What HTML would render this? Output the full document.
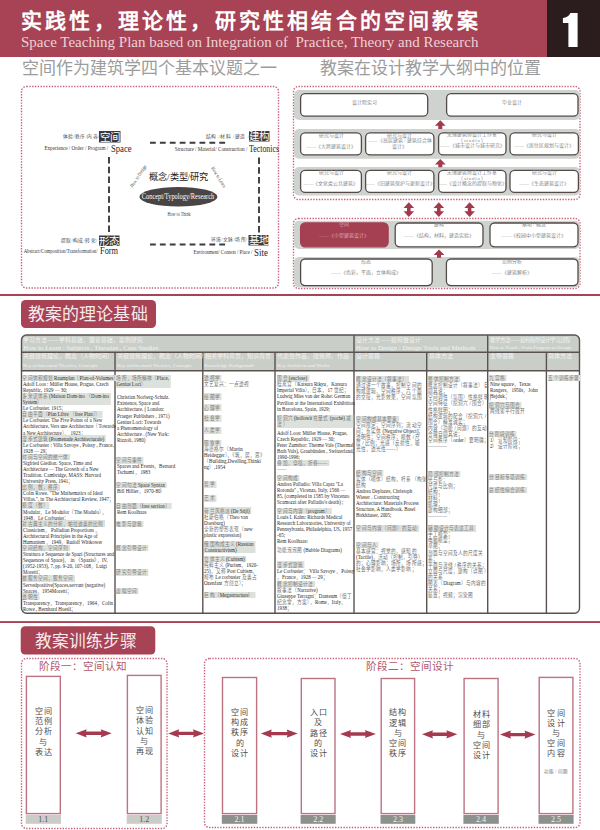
<!DOCTYPE html>
<html lang="zh-CN"><head><meta charset="utf-8">
<style>
*{margin:0;padding:0;box-sizing:border-box}
html,body{width:600px;height:830px;overflow:hidden;background:#fff}
body{position:relative;font-family:"Liberation Serif",serif;color:#333}
.a{position:absolute;white-space:nowrap}
.sans{font-family:"Liberation Sans",sans-serif}
svg{position:absolute;left:0;top:0}
</style></head><body>
<!-- HEADER -->
<div class="a" style="left:0;top:0;width:547px;height:57px;background:#a84355"></div>
<div class="a" style="left:547px;top:0;width:53px;height:57px;background:#2b1c1e"></div>
<svg width="600" height="60" viewBox="0 0 600 60"><path d="M577.6 12.9V47.1H568.4V22.9H562.9V18.1C566.2 17.6 569.2 15.6 570.4 12.9Z" fill="#fff"/></svg>
<div class="a sans" style="left:21px;top:7.5px;font-size:21px;font-weight:bold;color:#fff;letter-spacing:3.2px;line-height:26px">实践性，理论性，研究性相结合的空间教案</div>
<div class="a" style="left:21px;top:33px;font-size:15px;color:#ecd2d7;line-height:18px">Space Teaching Plan based on Integration of &nbsp;Practice, Theory and Research</div>

<div class="a" style="left:22px;top:58px;font-size:17px;color:#9c9c9c;line-height:22px;font-weight:200">空间作为建筑学四个基本议题之一</div>
<div class="a" style="left:320px;top:58px;font-size:17px;color:#9c9c9c;line-height:22px;font-weight:200">教案在设计教学大纲中的位置</div>

<svg width="600" height="830" viewBox="0 0 600 830">
 <g fill="none" stroke="#c9627b" stroke-width="1.4" stroke-dasharray="1.4 1.4">
  <rect x="21.5" y="86.5" width="257" height="201.5" rx="5"/>
  <rect x="293.5" y="86.5" width="286.5" height="113" rx="5"/>
  <rect x="293.5" y="218.5" width="286.5" height="70" rx="5"/>
 </g>
 <rect x="0" y="294" width="600" height="2" fill="#a84355"/>
</svg>
<!-- LEFT DIAGRAM -->
<svg width="600" height="830" viewBox="0 0 600 830">
 <g stroke="#3c3a3a" stroke-width="1.9" fill="none">
  <path d="M150 142.7H226" stroke-dasharray="5.8 4.1"/>
  <path d="M150 244.5H226" stroke-dasharray="5.8 4.1"/>
  <path d="M109 157V233.5" stroke-dasharray="6.5 3.3"/>
  <path d="M259 157.5V234" stroke-dasharray="6.5 3.3"/>
 </g>
 <ellipse cx="178.4" cy="196.7" rx="39" ry="9.8" fill="#4a4545"/>
 <rect x="99" y="131" width="21.5" height="11.5" fill="#3a3a3a"/>
 <rect x="249" y="131" width="20.5" height="10.5" fill="#3a3a3a"/>
 <rect x="99" y="235.5" width="20.5" height="10.5" fill="#3a3a3a"/>
 <rect x="248.5" y="235" width="20" height="10.5" fill="#3a3a3a"/>
</svg>
<div class="a sans" style="left:99px;top:130.5px;width:21.5px;text-align:center;font-size:10.5px;line-height:12px;color:#fff">空间</div>
<div class="a sans" style="left:249px;top:130px;width:20.5px;text-align:center;font-size:10.5px;line-height:12px;color:#fff">建构</div>
<div class="a sans" style="left:99px;top:234.5px;width:20.5px;text-align:center;font-size:10.5px;line-height:12px;color:#fff">形态</div>
<div class="a sans" style="left:248.5px;top:234px;width:20px;text-align:center;font-size:10.5px;line-height:12px;color:#fff">基地</div>
<div class="a" style="right:500.5px;top:133.5px;font-size:4.8px;line-height:6px;color:#4a4a4a;letter-spacing:0.3px">体验/秩序/内容/</div>
<div class="a" style="right:491.5px;top:144.6px;font-size:6px;line-height:7.199999999999999px;color:#333;letter-spacing:0px;word-spacing:0px;transform:scaleX(0.86);transform-origin:100% 0">Experience /  Order /  Program /</div>
<div class="a" style="left:110.5px;top:142.54000000000002px;font-size:9.6px;line-height:11.52px;color:#1e1e1e;letter-spacing:0px;word-spacing:0px;transform:scaleX(0.9);transform-origin:0 0">Space</div>
<div class="a" style="right:350.5px;top:134px;font-size:4.8px;line-height:6px;color:#4a4a4a;letter-spacing:0.5px">结构 /材料 /建造 /</div>
<div class="a" style="right:352.5px;top:146.4px;font-size:6px;line-height:7.199999999999999px;color:#333;letter-spacing:0px;word-spacing:0px;transform:scaleX(0.86);transform-origin:100% 0">Structure / Material/ Construction /</div>
<div class="a" style="left:248.5px;top:142.84px;font-size:9.6px;line-height:11.52px;color:#1e1e1e;letter-spacing:0px;word-spacing:0px;transform:scaleX(0.82);transform-origin:0 0">Tectonics</div>
<div class="a" style="right:502.5px;top:238.3px;font-size:4.8px;line-height:6px;color:#4a4a4a;letter-spacing:0.3px">提取/构成/转化/</div>
<div class="a" style="right:502.5px;top:247.70000000000002px;font-size:6px;line-height:7.199999999999999px;color:#333;letter-spacing:0px;word-spacing:0px;transform:scaleX(0.79);transform-origin:100% 0">Abstract/Composition/Transformation/</div>
<div class="a" style="left:100px;top:245.24px;font-size:9.6px;line-height:11.52px;color:#1e1e1e;letter-spacing:0px;word-spacing:0px;transform:scaleX(0.87);transform-origin:0 0">Form</div>
<div class="a" style="right:352.5px;top:237.3px;font-size:4.8px;line-height:6px;color:#4a4a4a;letter-spacing:0.3px">环境/文脉/场所/</div>
<div class="a" style="right:348px;top:248.6px;font-size:6px;line-height:7.199999999999999px;color:#333;letter-spacing:0px;word-spacing:0px;transform:scaleX(0.79);transform-origin:100% 0">Environment/ Context / Place /</div>
<div class="a" style="left:253.5px;top:246.74px;font-size:9.6px;line-height:11.52px;color:#1e1e1e;letter-spacing:0px;word-spacing:0px;transform:scaleX(0.93);transform-origin:0 0">Site</div>
<div class="a" style="left:149px;top:170.5px;font-size:9.2px;line-height:12px;color:#1a1a1a;font-weight:500">概念/类型/研究</div>
<div class="a" style="left:178.4px;top:192.2px;width:0;font-size:7.4px;line-height:9px;color:#fff"><span style="display:inline-block;transform:translateX(-50%) scaleX(0.86)">Concept/Typology/Research</span></div>
<div class="a" style="left:178.5px;top:211px;width:0;font-size:5.2px;line-height:6px;color:#444"><span style="display:inline-block;transform:translateX(-50%) scaleX(0.8)">How to Think</span></div>
<div class="a" style="left:138.2px;top:172.5px;width:0;font-size:5.2px;line-height:6px;color:#444"><span style="display:inline-block;transform:translateX(-50%) rotate(-56.5deg) scaleX(0.82)">How to Design</span></div>
<div class="a" style="left:218.6px;top:173.9px;width:0;font-size:5.2px;line-height:6px;color:#444"><span style="display:inline-block;transform:translateX(-50%) rotate(58.5deg) scaleX(0.82)">How to Learn</span></div>
<!-- RIGHT SECTION 1 -->
<svg width="600" height="830" viewBox="0 0 600 830">
<rect x="294" y="90" width="286" height="30" rx="5" fill="#cfd3cf"/>
<rect x="294" y="129" width="286" height="29.69999999999999" rx="5" fill="#cfd3cf"/>
<rect x="294" y="167" width="286" height="28.5" rx="5" fill="#cfd3cf"/>
<rect x="294" y="220.8" width="286" height="28.19999999999999" rx="5" fill="#cfd3cf"/>
<rect x="294" y="257" width="286" height="30.5" rx="5" fill="#cfd3cf"/>
<rect x="300.6" y="93.6" width="127.10000000000001" height="22.599999999999998" rx="4.5" fill="#fff" stroke="#534a48" stroke-width="1.3"/>
<rect x="446.6" y="93.6" width="131.40000000000003" height="22.599999999999998" rx="4.5" fill="#fff" stroke="#534a48" stroke-width="1.3"/>
<rect x="300.6" y="132.9" width="60.8" height="21.99999999999999" rx="4.5" fill="#fff" stroke="#534a48" stroke-width="1.3"/>
<rect x="365.6" y="132.9" width="68.3" height="21.99999999999999" rx="4.5" fill="#fff" stroke="#534a48" stroke-width="1.3"/>
<rect x="438.6" y="132.9" width="67.40000000000002" height="21.99999999999999" rx="4.5" fill="#fff" stroke="#534a48" stroke-width="1.3"/>
<rect x="510.0" y="132.9" width="68.40000000000002" height="21.99999999999999" rx="4.5" fill="#fff" stroke="#534a48" stroke-width="1.3"/>
<rect x="300.6" y="170.4" width="60.8" height="21.99999999999999" rx="4.5" fill="#fff" stroke="#534a48" stroke-width="1.3"/>
<rect x="365.6" y="170.4" width="68.3" height="21.99999999999999" rx="4.5" fill="#fff" stroke="#534a48" stroke-width="1.3"/>
<rect x="438.6" y="170.4" width="67.40000000000002" height="21.99999999999999" rx="4.5" fill="#fff" stroke="#534a48" stroke-width="1.3"/>
<rect x="510.0" y="170.4" width="68.40000000000002" height="21.99999999999999" rx="4.5" fill="#fff" stroke="#534a48" stroke-width="1.3"/>
<rect x="300.6" y="223.0" width="87.49999999999999" height="23.8" rx="4.5" fill="#a53f52" stroke="#a53f52" stroke-width="1.3"/>
<rect x="395.20000000000005" y="223.0" width="87.8" height="23.8" rx="4.5" fill="#fff" stroke="#534a48" stroke-width="1.3"/>
<rect x="490.0" y="223.0" width="88.00000000000004" height="23.8" rx="4.5" fill="#fff" stroke="#534a48" stroke-width="1.3"/>
<rect x="300.6" y="259.0" width="131.60000000000002" height="26.600000000000012" rx="4.5" fill="#fff" stroke="#534a48" stroke-width="1.3"/>
<rect x="446.40000000000003" y="259.0" width="131.60000000000002" height="26.600000000000012" rx="4.5" fill="#fff" stroke="#534a48" stroke-width="1.3"/>
<path d="M440.3 120.3L445.7 125.8H442.3V129H438.3V125.8H434.90000000000003Z" fill="#a23a4e"/>
<path d="M440.3 159L445.7 164.5H442.3V167.2H438.3V164.5H434.90000000000003Z" fill="#a23a4e"/>
<path d="M439 249.5L444.4 255.0H441V257.8H437V255.0H433.6Z" fill="#a23a4e"/>
<path d="M408.8 202.3L414.1 208.10000000000002H410.6V211.2H414.1L408.8 217L403.5 211.2H407.0V208.10000000000002H403.5Z" fill="#a23a4e"/>
<path d="M438.8 202.3L444.1 208.10000000000002H440.6V211.2H444.1L438.8 217L433.5 211.2H437.0V208.10000000000002H433.5Z" fill="#a23a4e"/>
<path d="M469.6 202.3L474.90000000000003 208.10000000000002H471.40000000000003V211.2H474.90000000000003L469.6 217L464.3 211.2H467.8V208.10000000000002H464.3Z" fill="#a23a4e"/>
</svg>
<div class="a" style="left:364px;top:99.7px;width:0;font-size:4.9px;line-height:6px;color:#858585;font-weight:300;letter-spacing:0px"><span style="display:inline-block;transform:translateX(-50%)">设计院实习</span></div>
<div class="a" style="left:512px;top:99.7px;width:0;font-size:4.9px;line-height:6px;color:#858585;font-weight:300;letter-spacing:0px"><span style="display:inline-block;transform:translateX(-50%)">毕业设计</span></div>
<div class="a" style="left:331.0px;top:132.5px;width:0;font-size:4.9px;line-height:6px;color:#858585;font-weight:300;letter-spacing:0px"><span style="display:inline-block;transform:translateX(-50%)">研究与设计</span></div>
<div class="a" style="left:331.0px;top:143.5px;width:0;font-size:4.9px;line-height:6px;color:#858585;font-weight:300;letter-spacing:0px"><span style="display:inline-block;transform:translateX(-50%)">——《大跨建筑设计》</span></div>
<div class="a" style="left:399.75px;top:132.5px;width:0;font-size:4.9px;line-height:6px;color:#858585;font-weight:300;letter-spacing:0px"><span style="display:inline-block;transform:translateX(-50%)">研究与设计</span></div>
<div class="a" style="left:399.75px;top:138px;width:0;font-size:4.9px;line-height:6px;color:#858585;font-weight:300;letter-spacing:0px"><span style="display:inline-block;transform:translateX(-50%)">——《高层建筑 / 建筑综合体</span></div>
<div class="a" style="left:399.75px;top:143.7px;width:0;font-size:4.9px;line-height:6px;color:#858585;font-weight:300;letter-spacing:0px"><span style="display:inline-block;transform:translateX(-50%)">设计》</span></div>
<div class="a" style="left:472.3px;top:132.2px;width:0;font-size:4.9px;line-height:6px;color:#858585;font-weight:300;letter-spacing:0px"><span style="display:inline-block;transform:translateX(-50%)">无锡建筑师设计工作室</span></div>
<div class="a" style="left:472.3px;top:138px;width:0;font-size:4.9px;line-height:6px;color:#858585;font-weight:300;letter-spacing:0.8px"><span style="display:inline-block;transform:translateX(-50%)">（studio）</span></div>
<div class="a" style="left:472.3px;top:143.4px;width:0;font-size:4.9px;line-height:6px;color:#858585;font-weight:300;letter-spacing:0px"><span style="display:inline-block;transform:translateX(-50%)">——《城市设计与城市研究》</span></div>
<div class="a" style="left:544.2px;top:132.2px;width:0;font-size:4.9px;line-height:6px;color:#858585;font-weight:300;letter-spacing:0px"><span style="display:inline-block;transform:translateX(-50%)">研究与设计</span></div>
<div class="a" style="left:544.2px;top:143.4px;width:0;font-size:4.9px;line-height:6px;color:#858585;font-weight:300;letter-spacing:0px"><span style="display:inline-block;transform:translateX(-50%)">——《居住区规划与设计》</span></div>
<div class="a" style="left:331.0px;top:170px;width:0;font-size:4.9px;line-height:6px;color:#858585;font-weight:300;letter-spacing:0px"><span style="display:inline-block;transform:translateX(-50%)">研究与设计</span></div>
<div class="a" style="left:331.0px;top:181.2px;width:0;font-size:4.9px;line-height:6px;color:#858585;font-weight:300;letter-spacing:0px"><span style="display:inline-block;transform:translateX(-50%)">——《文化类公共建筑》</span></div>
<div class="a" style="left:399.75px;top:170px;width:0;font-size:4.9px;line-height:6px;color:#858585;font-weight:300;letter-spacing:0px"><span style="display:inline-block;transform:translateX(-50%)">研究与设计</span></div>
<div class="a" style="left:399.75px;top:181.2px;width:0;font-size:4.9px;line-height:6px;color:#858585;font-weight:300;letter-spacing:0px"><span style="display:inline-block;transform:translateX(-50%)">——《旧建筑保护与更新设计》</span></div>
<div class="a" style="left:472.3px;top:170px;width:0;font-size:4.9px;line-height:6px;color:#858585;font-weight:300;letter-spacing:0px"><span style="display:inline-block;transform:translateX(-50%)">无锡建筑师设计工作室</span></div>
<div class="a" style="left:472.3px;top:176.1px;width:0;font-size:4.9px;line-height:6px;color:#858585;font-weight:300;letter-spacing:0.8px"><span style="display:inline-block;transform:translateX(-50%)">（studio）</span></div>
<div class="a" style="left:472.3px;top:181.2px;width:0;font-size:4.9px;line-height:6px;color:#858585;font-weight:300;letter-spacing:0px"><span style="display:inline-block;transform:translateX(-50%)">——《设计概念的提取与物化》</span></div>
<div class="a" style="left:544.2px;top:170px;width:0;font-size:4.9px;line-height:6px;color:#858585;font-weight:300;letter-spacing:0px"><span style="display:inline-block;transform:translateX(-50%)">研究与设计</span></div>
<div class="a" style="left:544.2px;top:181.2px;width:0;font-size:4.9px;line-height:6px;color:#858585;font-weight:300;letter-spacing:0px"><span style="display:inline-block;transform:translateX(-50%)">——《生态建筑设计》</span></div>
<div class="a" style="left:344px;top:221.7px;width:0;font-size:4.9px;line-height:6px;color:#dcaab4;font-weight:300;letter-spacing:0px"><span style="display:inline-block;transform:translateX(-50%)">空间</span></div>
<div class="a" style="left:344px;top:233px;width:0;font-size:4.9px;line-height:6px;color:#dcaab4;font-weight:300;letter-spacing:0px"><span style="display:inline-block;transform:translateX(-50%)">——《小型建筑设计》</span></div>
<div class="a" style="left:439px;top:221.7px;width:0;font-size:4.9px;line-height:6px;color:#858585;font-weight:300;letter-spacing:0px"><span style="display:inline-block;transform:translateX(-50%)">建构</span></div>
<div class="a" style="left:439px;top:233px;width:0;font-size:4.9px;line-height:6px;color:#858585;font-weight:300;letter-spacing:0px"><span style="display:inline-block;transform:translateX(-50%)">——《结构，材料，建造实验》</span></div>
<div class="a" style="left:534px;top:221.7px;width:0;font-size:4.9px;line-height:6px;color:#858585;font-weight:300;letter-spacing:0px"><span style="display:inline-block;transform:translateX(-50%)">基地 / 概念</span></div>
<div class="a" style="left:534px;top:233px;width:0;font-size:4.9px;line-height:6px;color:#858585;font-weight:300;letter-spacing:0px"><span style="display:inline-block;transform:translateX(-50%)">——《校园中小型建筑设计》</span></div>
<div class="a" style="left:366px;top:259px;width:0;font-size:4.9px;line-height:6px;color:#858585;font-weight:300;letter-spacing:0px"><span style="display:inline-block;transform:translateX(-50%)">形态</span></div>
<div class="a" style="left:366px;top:270.2px;width:0;font-size:4.9px;line-height:6px;color:#858585;font-weight:300;letter-spacing:0px"><span style="display:inline-block;transform:translateX(-50%)">——《色彩，平面，立体构成》</span></div>
<div class="a" style="left:512px;top:259px;width:0;font-size:4.9px;line-height:6px;color:#858585;font-weight:300;letter-spacing:0px"><span style="display:inline-block;transform:translateX(-50%)">范例分析</span></div>
<div class="a" style="left:512px;top:270.2px;width:0;font-size:4.9px;line-height:6px;color:#858585;font-weight:300;letter-spacing:0px"><span style="display:inline-block;transform:translateX(-50%)">——《建筑解析》</span></div>
<!-- SECTION 2 -->
<div class="a" style="left:21px;top:300.3px;width:134.5px;height:28px;background:#a84355;border-radius:4.5px"></div>
<div class="a" style="left:28px;top:301.5px;font-size:17px;line-height:26px;color:#f7eaec;letter-spacing:0.1px;font-weight:200">教案的理论基础</div>
<svg width="600" height="830" viewBox="0 0 600 830">
<path d="M21.5 370.7V340a5 5 0 0 1 5-5H574.5a5 5 0 0 1 5 5V370.7Z" fill="#c9cec9"/>
<path d="M21.5 370.7V340a5 5 0 0 1 5-5H574.5a5 5 0 0 1 5 5V608.2a5 5 0 0 1-5 5H26.5a5 5 0 0 1-5-5V370.7" fill="none" stroke="#5a5250" stroke-width="1.4"/>
<path d="M21.5 352.2H579.5M21.5 370.7H579.5" stroke="#5a5250" stroke-width="1.4"/>
<path d="M354 335V613.2" stroke="#5a5250" stroke-width="1.4"/>
<path d="M487.7 335V613.2" stroke="#5a5250" stroke-width="1.4"/>
<path d="M115 352.2V613.2" stroke="#5a5250" stroke-width="1.4"/>
<path d="M202.8 352.2V613.2" stroke="#5a5250" stroke-width="1.4"/>
<path d="M275 352.2V613.2" stroke="#5a5250" stroke-width="1.4"/>
<path d="M426.7 352.2V613.2" stroke="#5a5250" stroke-width="1.4"/>
<path d="M546.4 352.2V613.2" stroke="#5a5250" stroke-width="1.4"/>
</svg>
<div class="a" style="left:23.3px;top:336.7px;font-size:5.7px;line-height:7px;color:#f3f4f2;">学习方法——学科基础，理论基础，案例研究</div>
<div class="a" style="left:23.3px;top:343.5px;font-size:6.8px;line-height:7px;color:#f3f4f2;">How to Learn : Subjects , Theories , Case Studies</div>
<div class="a" style="left:356px;top:336.7px;font-size:5.7px;line-height:7px;color:#f3f4f2;">设计方法——如何做设计</div>
<div class="a" style="left:356px;top:343.5px;font-size:6.8px;line-height:7px;color:#f3f4f2;">How to Design : Design Tools and Methods</div>
<div class="a" style="left:489.5px;top:336.7px;font-size:5.4px;line-height:7px;color:#f3f4f2;">教学方法——如何指导设计学习过程</div>
<div class="a" style="left:489.5px;top:343.5px;font-size:5px;line-height:7px;color:#f3f4f2;">How to Teach : From Program to Design</div>
<div class="a" style="left:23px;top:353px;font-size:6px;line-height:7px;color:#f3f4f2;">关键建筑理论，概念（人物时间）</div>
<div class="a" style="left:23px;top:361.5px;font-size:5px;line-height:7px;color:#f3f4f2;">Key architectural Theories, Concepts</div>
<div class="a" style="left:117px;top:353px;font-size:6px;line-height:7px;color:#f3f4f2;">关键建筑理论，概念（人物时间）</div>
<div class="a" style="left:117px;top:361.5px;font-size:5px;line-height:7px;color:#f3f4f2;">Key architectural Theories, Concepts</div>
<div class="a" style="left:204.5px;top:353px;font-size:6px;line-height:7px;color:#f3f4f2;">相关学科背景，知识背景</div>
<div class="a" style="left:204.5px;top:361.5px;font-size:5px;line-height:7px;color:#f3f4f2;">Knowledge Background</div>
<div class="a" style="left:277px;top:353px;font-size:6px;line-height:7px;color:#f3f4f2;">代表性作品，建筑师，作品</div>
<div class="a" style="left:277px;top:361.5px;font-size:5px;line-height:7px;color:#f3f4f2;">Key Architects and Works</div>
<div class="a" style="left:356px;top:353px;font-size:6px;line-height:7px;color:#f3f4f2;">设计思路</div>
<div class="a" style="left:428.5px;top:353px;font-size:6px;line-height:7px;color:#f3f4f2;">具体方法</div>
<div class="a" style="left:489.5px;top:353px;font-size:6px;line-height:7px;color:#f3f4f2;">主导思路</div>
<div class="a" style="left:548px;top:353px;font-size:6px;line-height:7px;color:#f3f4f2;">具体方法</div>
<div class="a" style="left:22.0px;top:374.5px;padding:0.3px 2.4px 0.3px 0.6px;background:#dde1dc;font-size:6px;transform:scaleX(0.83);transform-origin:0 0"><div style="height:6.08px;line-height:6.08px;white-space:nowrap"><span style="color:#808080;font-size:5.6px;letter-spacing:0.08px">空间体积规划</span><span style="color:#333"> Raumplan</span><span style="color:#808080;font-size:5.6px;letter-spacing:0.08px">（</span><span style="color:#333">Plan-of-Volumes</span><span style="color:#808080;font-size:5.6px;letter-spacing:0.08px">）</span></div></div>
<div class="a" style="left:22.5px;top:380.88px;height:6.08px;line-height:6.08px;font-size:6px;transform:scaleX(0.83);transform-origin:0 0"><span style="color:#2a2a2a">Adolf  Loos : Müller House, Prague, Czech</span></div>
<div class="a" style="left:22.5px;top:386.96px;height:6.08px;line-height:6.08px;font-size:6px;transform:scaleX(0.83);transform-origin:0 0"><span style="color:#2a2a2a">Republic, 1929 </span><span style="color:#707070;font-size:5.6px;letter-spacing:0.08px">—</span><span style="color:#2a2a2a"> 30;</span></div>
<div class="a" style="left:22.0px;top:392.73999999999995px;padding:0.3px 2.4px 0.3px 0.6px;background:#dde1dc;font-size:6px;transform:scaleX(0.83);transform-origin:0 0"><div style="height:6.08px;line-height:6.08px;white-space:nowrap"><span style="color:#808080;font-size:5.6px;letter-spacing:0.08px">多米诺体系</span><span style="color:#333"> (Maison Dom-ino </span><span style="color:#808080;font-size:5.6px;letter-spacing:0.08px">（</span><span style="color:#333">Dom-ino</span></div><div style="height:6.08px;line-height:6.08px;white-space:nowrap"><span style="color:#333">System</span><span style="color:#808080;font-size:5.6px;letter-spacing:0.08px">）</span></div></div>
<div class="a" style="left:22.5px;top:405.19999999999993px;height:6.08px;line-height:6.08px;font-size:6px;transform:scaleX(0.83);transform-origin:0 0"><span style="color:#2a2a2a">Le Corbusier. 1915</span><span style="color:#707070;font-size:5.6px;letter-spacing:0.08px">；</span></div>
<div class="a" style="left:22.0px;top:410.9799999999999px;padding:0.3px 2.4px 0.3px 0.6px;background:#dde1dc;font-size:6px;transform:scaleX(0.83);transform-origin:0 0"><div style="height:6.08px;line-height:6.08px;white-space:nowrap"><span style="color:#808080;font-size:5.6px;letter-spacing:0.08px">自由平面（</span><span style="color:#333">Plan Libre </span><span style="color:#808080;font-size:5.6px;letter-spacing:0.08px">（</span><span style="color:#333">free Plan</span><span style="color:#808080;font-size:5.6px;letter-spacing:0.08px">））</span></div></div>
<div class="a" style="left:22.5px;top:417.3599999999999px;height:6.08px;line-height:6.08px;font-size:6px;transform:scaleX(0.83);transform-origin:0 0"><span style="color:#2a2a2a">Le Corbusier. The Five Points of a New</span></div>
<div class="a" style="left:22.5px;top:423.4399999999999px;height:6.08px;line-height:6.08px;font-size:6px;transform:scaleX(0.83);transform-origin:0 0"><span style="color:#2a2a2a">Architecture, Vers une Architecture</span><span style="color:#707070;font-size:5.6px;letter-spacing:0.08px">（</span><span style="color:#2a2a2a">Towards</span></div>
<div class="a" style="left:22.5px;top:429.51999999999987px;height:6.08px;line-height:6.08px;font-size:6px;transform:scaleX(0.83);transform-origin:0 0"><span style="color:#2a2a2a">a New Architecture</span><span style="color:#707070;font-size:5.6px;letter-spacing:0.08px">），</span><span style="color:#2a2a2a"> 1923</span><span style="color:#707070;font-size:5.6px;letter-spacing:0.08px">；</span></div>
<div class="a" style="left:22.0px;top:435.29999999999984px;padding:0.3px 2.4px 0.3px 0.6px;background:#dde1dc;font-size:6px;transform:scaleX(0.83);transform-origin:0 0"><div style="height:6.08px;line-height:6.08px;white-space:nowrap"><span style="color:#808080;font-size:5.6px;letter-spacing:0.08px">漫步式建筑</span><span style="color:#333"> (Promenade Architecturale)</span></div></div>
<div class="a" style="left:22.5px;top:441.67999999999984px;height:6.08px;line-height:6.08px;font-size:6px;transform:scaleX(0.83);transform-origin:0 0"><span style="color:#2a2a2a">Le Corbusier : Villa Savoye , Poissy , France,</span></div>
<div class="a" style="left:22.5px;top:447.7599999999998px;height:6.08px;line-height:6.08px;font-size:6px;transform:scaleX(0.83);transform-origin:0 0"><span style="color:#2a2a2a">1928 </span><span style="color:#707070;font-size:5.6px;letter-spacing:0.08px">—</span><span style="color:#2a2a2a"> 29</span><span style="color:#707070;font-size:5.6px;letter-spacing:0.08px">；</span></div>
<div class="a" style="left:22.0px;top:453.5399999999998px;padding:0.3px 2.4px 0.3px 0.6px;background:#dde1dc;font-size:6px;transform:scaleX(0.83);transform-origin:0 0"><div style="height:6.08px;line-height:6.08px;white-space:nowrap"><span style="color:#808080;font-size:5.6px;letter-spacing:0.08px">时间与空间的统一体</span></div></div>
<div class="a" style="left:22.5px;top:459.9199999999998px;height:6.08px;line-height:6.08px;font-size:6px;transform:scaleX(0.83);transform-origin:0 0"><span style="color:#2a2a2a">Sigfried Giedion. Space, Time and</span></div>
<div class="a" style="left:22.5px;top:465.9999999999998px;height:6.08px;line-height:6.08px;font-size:6px;transform:scaleX(0.83);transform-origin:0 0"><span style="color:#2a2a2a">Architecture </span><span style="color:#707070;font-size:5.6px;letter-spacing:0.08px">—</span><span style="color:#2a2a2a"> The Growth of a New</span></div>
<div class="a" style="left:22.5px;top:472.07999999999976px;height:6.08px;line-height:6.08px;font-size:6px;transform:scaleX(0.83);transform-origin:0 0"><span style="color:#2a2a2a">Tradition. Cambridge, MASS: Harvard</span></div>
<div class="a" style="left:22.5px;top:478.15999999999974px;height:6.08px;line-height:6.08px;font-size:6px;transform:scaleX(0.83);transform-origin:0 0"><span style="color:#2a2a2a">University Press, 1941</span><span style="color:#707070;font-size:5.6px;letter-spacing:0.08px">；</span></div>
<div class="a" style="left:22.0px;top:483.9399999999997px;padding:0.3px 2.4px 0.3px 0.6px;background:#dde1dc;font-size:6px;transform:scaleX(0.83);transform-origin:0 0"><div style="height:6.08px;line-height:6.08px;white-space:nowrap"><span style="color:#808080;font-size:5.6px;letter-spacing:0.08px">比例，数，秩序</span></div></div>
<div class="a" style="left:22.5px;top:490.3199999999997px;height:6.08px;line-height:6.08px;font-size:6px;transform:scaleX(0.83);transform-origin:0 0"><span style="color:#2a2a2a">Colin Rowe. &quot;The Mathematics of Ideal</span></div>
<div class="a" style="left:22.5px;top:496.3999999999997px;height:6.08px;line-height:6.08px;font-size:6px;transform:scaleX(0.83);transform-origin:0 0"><span style="color:#2a2a2a">Villas.&quot;, in The Architectural Review, 1947</span><span style="color:#707070;font-size:5.6px;letter-spacing:0.08px">；</span></div>
<div class="a" style="left:22.0px;top:502.17999999999967px;padding:0.3px 2.4px 0.3px 0.6px;background:#dde1dc;font-size:6px;transform:scaleX(0.83);transform-origin:0 0"><div style="height:6.08px;line-height:6.08px;white-space:nowrap"><span style="color:#808080;font-size:5.6px;letter-spacing:0.08px">模度（数）</span></div></div>
<div class="a" style="left:22.5px;top:508.55999999999966px;height:6.08px;line-height:6.08px;font-size:6px;transform:scaleX(0.83);transform-origin:0 0"><span style="color:#2a2a2a">Modular</span><span style="color:#707070;font-size:5.6px;letter-spacing:0.08px">，</span><span style="color:#2a2a2a">Le Modulor</span><span style="color:#707070;font-size:5.6px;letter-spacing:0.08px">（</span><span style="color:#2a2a2a">The Modulo</span><span style="color:#707070;font-size:5.6px;letter-spacing:0.08px">），</span></div>
<div class="a" style="left:22.5px;top:514.6399999999996px;height:6.08px;line-height:6.08px;font-size:6px;transform:scaleX(0.83);transform-origin:0 0"><span style="color:#2a2a2a">1948</span><span style="color:#707070;font-size:5.6px;letter-spacing:0.08px">，</span><span style="color:#2a2a2a">Le Corbusier</span><span style="color:#707070;font-size:5.6px;letter-spacing:0.08px">；</span></div>
<div class="a" style="left:22.0px;top:520.4199999999997px;padding:0.3px 2.4px 0.3px 0.6px;background:#dde1dc;font-size:6px;transform:scaleX(0.83);transform-origin:0 0"><div style="height:6.08px;line-height:6.08px;white-space:nowrap"><span style="color:#808080;font-size:5.6px;letter-spacing:0.08px">对古典主义的分析，帕拉迪奥的比例</span></div></div>
<div class="a" style="left:22.5px;top:526.7999999999997px;height:6.08px;line-height:6.08px;font-size:6px;transform:scaleX(0.83);transform-origin:0 0"><span style="color:#2a2a2a">Classicism</span><span style="color:#707070;font-size:5.6px;letter-spacing:0.08px">，</span><span style="color:#2a2a2a"> Palladian Proportions </span><span style="color:#707070;font-size:5.6px;letter-spacing:0.08px">，</span></div>
<div class="a" style="left:22.5px;top:532.8799999999998px;height:6.08px;line-height:6.08px;font-size:6px;transform:scaleX(0.83);transform-origin:0 0"><span style="color:#2a2a2a">Architectural Principles in the Age of</span></div>
<div class="a" style="left:22.5px;top:538.9599999999998px;height:6.08px;line-height:6.08px;font-size:6px;transform:scaleX(0.83);transform-origin:0 0"><span style="color:#2a2a2a">Humanism </span><span style="color:#707070;font-size:5.6px;letter-spacing:0.08px">，</span><span style="color:#2a2a2a">1949</span><span style="color:#707070;font-size:5.6px;letter-spacing:0.08px">，</span><span style="color:#2a2a2a">Rudolf Wittkower</span></div>
<div class="a" style="left:22.0px;top:544.7399999999999px;padding:0.3px 2.4px 0.3px 0.6px;background:#dde1dc;font-size:6px;transform:scaleX(0.83);transform-origin:0 0"><div style="height:6.08px;line-height:6.08px;white-space:nowrap"><span style="color:#808080;font-size:5.6px;letter-spacing:0.08px">空间结构，空间序列</span></div></div>
<div class="a" style="left:22.5px;top:551.1199999999999px;height:6.08px;line-height:6.08px;font-size:6px;transform:scaleX(0.83);transform-origin:0 0"><span style="color:#2a2a2a">Struttura e Sequenze de Spazi (Structures and</span></div>
<div class="a" style="left:22.5px;top:557.1999999999999px;height:6.08px;line-height:6.08px;font-size:6px;transform:scaleX(0.83);transform-origin:0 0"><span style="color:#2a2a2a">Sequences of Space)</span><span style="color:#707070;font-size:5.6px;letter-spacing:0.08px">，</span><span style="color:#2a2a2a"> in </span><span style="color:#707070;font-size:5.6px;letter-spacing:0.08px">《</span><span style="color:#2a2a2a">Spazio</span><span style="color:#707070;font-size:5.6px;letter-spacing:0.08px">》，</span><span style="color:#2a2a2a">IV,</span></div>
<div class="a" style="left:22.5px;top:563.28px;height:6.08px;line-height:6.08px;font-size:6px;transform:scaleX(0.83);transform-origin:0 0"><span style="color:#2a2a2a">(1952-1953), 7, pp. 9-20, 107-108</span><span style="color:#707070;font-size:5.6px;letter-spacing:0.08px">，</span><span style="color:#2a2a2a">Luigi</span></div>
<div class="a" style="left:22.5px;top:569.36px;height:6.08px;line-height:6.08px;font-size:6px;transform:scaleX(0.83);transform-origin:0 0"><span style="color:#2a2a2a">Moretti</span><span style="color:#707070;font-size:5.6px;letter-spacing:0.08px">；</span></div>
<div class="a" style="left:22.0px;top:575.1400000000001px;padding:0.3px 2.4px 0.3px 0.6px;background:#dde1dc;font-size:6px;transform:scaleX(0.83);transform-origin:0 0"><div style="height:6.08px;line-height:6.08px;white-space:nowrap"><span style="color:#808080;font-size:5.6px;letter-spacing:0.08px">被服务空间，服务空间</span></div></div>
<div class="a" style="left:22.5px;top:581.5200000000001px;height:6.08px;line-height:6.08px;font-size:6px;transform:scaleX(0.83);transform-origin:0 0"><span style="color:#2a2a2a">Servedpositive(Spaces,servant (negative)</span></div>
<div class="a" style="left:22.5px;top:587.6000000000001px;height:6.08px;line-height:6.08px;font-size:6px;transform:scaleX(0.83);transform-origin:0 0"><span style="color:#2a2a2a">Spaces</span><span style="color:#707070;font-size:5.6px;letter-spacing:0.08px">，</span><span style="color:#2a2a2a">1954Moretti</span><span style="color:#707070;font-size:5.6px;letter-spacing:0.08px">；</span></div>
<div class="a" style="left:22.0px;top:593.3800000000002px;padding:0.3px 2.4px 0.3px 0.6px;background:#dde1dc;font-size:6px;transform:scaleX(0.83);transform-origin:0 0"><div style="height:6.08px;line-height:6.08px;white-space:nowrap"><span style="color:#808080;font-size:5.6px;letter-spacing:0.08px">透明性</span></div></div>
<div class="a" style="left:22.5px;top:599.7600000000002px;height:6.08px;line-height:6.08px;font-size:6px;transform:scaleX(0.83);transform-origin:0 0"><span style="color:#2a2a2a">Transparency</span><span style="color:#707070;font-size:5.6px;letter-spacing:0.08px">，</span><span style="color:#2a2a2a">Transparency</span><span style="color:#707070;font-size:5.6px;letter-spacing:0.08px">，</span><span style="color:#2a2a2a">1964</span><span style="color:#707070;font-size:5.6px;letter-spacing:0.08px">，</span><span style="color:#2a2a2a">Colin</span></div>
<div class="a" style="left:22.5px;top:605.8400000000003px;height:6.08px;line-height:6.08px;font-size:6px;transform:scaleX(0.83);transform-origin:0 0"><span style="color:#2a2a2a">Rowe , Bernhard Hoesli</span><span style="color:#707070;font-size:5.6px;letter-spacing:0.08px">；</span></div>
<div class="a" style="left:116.2px;top:375.0px;padding:0.3px 2.4px 0.3px 0.6px;background:#dde1dc;font-size:6px;transform:scaleX(0.83);transform-origin:0 0"><div style="height:6.08px;line-height:6.08px;white-space:nowrap"><span style="color:#808080;font-size:5.6px;letter-spacing:0.08px">场所，场所精神（</span><span style="color:#333">Place,</span></div><div style="height:6.08px;line-height:6.08px;white-space:nowrap"><span style="color:#333">Genius Loci</span><span style="color:#808080;font-size:5.6px;letter-spacing:0.08px">）</span></div></div>
<div class="a" style="left:116.7px;top:394.3px;height:6.08px;line-height:6.08px;font-size:6px;transform:scaleX(0.83);transform-origin:0 0"><span style="color:#2a2a2a">Christian Norberg-Schulz.</span></div>
<div class="a" style="left:116.7px;top:400.38px;height:6.08px;line-height:6.08px;font-size:6px;transform:scaleX(0.83);transform-origin:0 0"><span style="color:#2a2a2a">Existence, Space and</span></div>
<div class="a" style="left:116.7px;top:406.46px;height:6.08px;line-height:6.08px;font-size:6px;transform:scaleX(0.83);transform-origin:0 0"><span style="color:#2a2a2a">Architecture. ( London:</span></div>
<div class="a" style="left:116.7px;top:412.53999999999996px;height:6.08px;line-height:6.08px;font-size:6px;transform:scaleX(0.83);transform-origin:0 0"><span style="color:#2a2a2a">Praeger Publishers , 1971)</span></div>
<div class="a" style="left:116.7px;top:418.61999999999995px;height:6.08px;line-height:6.08px;font-size:6px;transform:scaleX(0.83);transform-origin:0 0"><span style="color:#2a2a2a">Genius Loci: Towards</span></div>
<div class="a" style="left:116.7px;top:424.69999999999993px;height:6.08px;line-height:6.08px;font-size:6px;transform:scaleX(0.83);transform-origin:0 0"><span style="color:#2a2a2a">a Phenomenology of</span></div>
<div class="a" style="left:116.7px;top:430.7799999999999px;height:6.08px;line-height:6.08px;font-size:6px;transform:scaleX(0.83);transform-origin:0 0"><span style="color:#2a2a2a">Architecture . (New York:</span></div>
<div class="a" style="left:116.7px;top:436.8599999999999px;height:6.08px;line-height:6.08px;font-size:6px;transform:scaleX(0.83);transform-origin:0 0"><span style="color:#2a2a2a">Rizzoli, 1980)</span></div>
<div class="a" style="left:116.2px;top:457.0px;padding:0.3px 2.4px 0.3px 0.6px;background:#dde1dc;font-size:6px;transform:scaleX(0.83);transform-origin:0 0"><div style="height:6.08px;line-height:6.08px;white-space:nowrap"><span style="color:#808080;font-size:5.6px;letter-spacing:0.08px">空间与事件</span></div></div>
<div class="a" style="left:116.7px;top:463.38px;height:6.08px;line-height:6.08px;font-size:6px;transform:scaleX(0.83);transform-origin:0 0"><span style="color:#2a2a2a">Spaces and Events</span><span style="color:#707070;font-size:5.6px;letter-spacing:0.08px">，</span><span style="color:#2a2a2a">Bernard</span></div>
<div class="a" style="left:116.7px;top:469.46px;height:6.08px;line-height:6.08px;font-size:6px;transform:scaleX(0.83);transform-origin:0 0"><span style="color:#2a2a2a">Tschumi </span><span style="color:#707070;font-size:5.6px;letter-spacing:0.08px">，</span><span style="color:#2a2a2a">1983</span></div>
<div class="a" style="left:116.2px;top:481.5px;padding:0.3px 2.4px 0.3px 0.6px;background:#dde1dc;font-size:6px;transform:scaleX(0.83);transform-origin:0 0"><div style="height:6.08px;line-height:6.08px;white-space:nowrap"><span style="color:#808080;font-size:5.6px;letter-spacing:0.08px">空间句法</span><span style="color:#333"> Space Syntax</span></div></div>
<div class="a" style="left:116.7px;top:487.88px;height:6.08px;line-height:6.08px;font-size:6px;transform:scaleX(0.83);transform-origin:0 0"><span style="color:#2a2a2a">Bill Hillier</span><span style="color:#707070;font-size:5.6px;letter-spacing:0.08px">，</span><span style="color:#2a2a2a">1970-80</span><span style="color:#707070;font-size:5.6px;letter-spacing:0.08px">）</span></div>
<div class="a" style="left:116.2px;top:502.5px;padding:0.3px 2.4px 0.3px 0.6px;background:#dde1dc;font-size:6px;transform:scaleX(0.83);transform-origin:0 0"><div style="height:6.08px;line-height:6.08px;white-space:nowrap"><span style="color:#808080;font-size:5.6px;letter-spacing:0.08px">自由剖面（</span><span style="color:#333">free section</span><span style="color:#808080;font-size:5.6px;letter-spacing:0.08px">）</span></div></div>
<div class="a" style="left:116.7px;top:508.88000000000005px;height:6.08px;line-height:6.08px;font-size:6px;transform:scaleX(0.83);transform-origin:0 0"><span style="color:#2a2a2a">Rem Koolhaas</span></div>
<div class="a" style="left:116.2px;top:520.5px;padding:0.3px 2.4px 0.3px 0.6px;background:#dde1dc;font-size:6px;transform:scaleX(0.83);transform-origin:0 0"><div style="height:6.08px;line-height:6.08px;white-space:nowrap"><span style="color:#808080;font-size:5.6px;letter-spacing:0.08px">电影与建筑</span></div></div>
<div class="a" style="left:116.2px;top:544.7px;padding:0.3px 2.4px 0.3px 0.6px;background:#dde1dc;font-size:6px;transform:scaleX(0.83);transform-origin:0 0"><div style="height:6.08px;line-height:6.08px;white-space:nowrap"><span style="color:#808080;font-size:5.6px;letter-spacing:0.08px">概念引导设计</span></div></div>
<div class="a" style="left:116.2px;top:569.0px;padding:0.3px 2.4px 0.3px 0.6px;background:#dde1dc;font-size:6px;transform:scaleX(0.83);transform-origin:0 0"><div style="height:6.08px;line-height:6.08px;white-space:nowrap"><span style="color:#808080;font-size:5.6px;letter-spacing:0.08px">研究引导设计</span></div></div>
<div class="a" style="left:116.2px;top:587.8px;padding:0.3px 2.4px 0.3px 0.6px;background:#dde1dc;font-size:6px;transform:scaleX(0.83);transform-origin:0 0"><div style="height:6.08px;line-height:6.08px;white-space:nowrap"><span style="color:#808080;font-size:5.6px;letter-spacing:0.08px">虚拟空间</span></div></div>
<div class="a" style="left:203.7px;top:374.7px;padding:0.3px 2.4px 0.3px 0.6px;background:#dde1dc;font-size:6px;transform:scaleX(0.83);transform-origin:0 0"><div style="height:6.08px;line-height:6.08px;white-space:nowrap"><span style="color:#808080;font-size:5.6px;letter-spacing:0.08px">透视学</span></div></div>
<div class="a" style="left:204.2px;top:381.08px;height:6.08px;line-height:6.08px;font-size:6px;transform:scaleX(0.83);transform-origin:0 0"><span style="color:#707070;font-size:5.6px;letter-spacing:0.08px">文艺复兴：一点透视</span></div>
<div class="a" style="left:203.7px;top:393.3px;padding:0.3px 2.4px 0.3px 0.6px;background:#dde1dc;font-size:6px;transform:scaleX(0.83);transform-origin:0 0"><div style="height:6.08px;line-height:6.08px;white-space:nowrap"><span style="color:#808080;font-size:5.6px;letter-spacing:0.08px">绘图学</span></div></div>
<div class="a" style="left:203.7px;top:404.3px;padding:0.3px 2.4px 0.3px 0.6px;background:#dde1dc;font-size:6px;transform:scaleX(0.83);transform-origin:0 0"><div style="height:6.08px;line-height:6.08px;white-space:nowrap"><span style="color:#808080;font-size:5.6px;letter-spacing:0.08px">心理学</span></div></div>
<div class="a" style="left:203.7px;top:415.0px;padding:0.3px 2.4px 0.3px 0.6px;background:#dde1dc;font-size:6px;transform:scaleX(0.83);transform-origin:0 0"><div style="height:6.08px;line-height:6.08px;white-space:nowrap"><span style="color:#808080;font-size:5.6px;letter-spacing:0.08px">社会学</span></div></div>
<div class="a" style="left:203.7px;top:426.9px;padding:0.3px 2.4px 0.3px 0.6px;background:#dde1dc;font-size:6px;transform:scaleX(0.83);transform-origin:0 0"><div style="height:6.08px;line-height:6.08px;white-space:nowrap"><span style="color:#808080;font-size:5.6px;letter-spacing:0.08px">人类学</span></div></div>
<div class="a" style="left:203.7px;top:439.7px;padding:0.3px 2.4px 0.3px 0.6px;background:#dde1dc;font-size:6px;transform:scaleX(0.83);transform-origin:0 0"><div style="height:6.08px;line-height:6.08px;white-space:nowrap"><span style="color:#808080;font-size:5.6px;letter-spacing:0.08px">现象学</span></div></div>
<div class="a" style="left:204.2px;top:446.08px;height:6.08px;line-height:6.08px;font-size:6px;transform:scaleX(0.83);transform-origin:0 0"><span style="color:#707070;font-size:5.6px;letter-spacing:0.08px">海德格尔（</span><span style="color:#2a2a2a">Martin</span></div>
<div class="a" style="left:204.2px;top:452.15999999999997px;height:6.08px;line-height:6.08px;font-size:6px;transform:scaleX(0.83);transform-origin:0 0"><span style="color:#2a2a2a">Heidegger</span><span style="color:#707070;font-size:5.6px;letter-spacing:0.08px">），《筑，居，思》</span></div>
<div class="a" style="left:204.2px;top:458.23999999999995px;height:6.08px;line-height:6.08px;font-size:6px;transform:scaleX(0.83);transform-origin:0 0"><span style="color:#707070;font-size:5.6px;letter-spacing:0.08px">（</span><span style="color:#2a2a2a">Building,Dwelling,Thinki</span></div>
<div class="a" style="left:204.2px;top:464.31999999999994px;height:6.08px;line-height:6.08px;font-size:6px;transform:scaleX(0.83);transform-origin:0 0"><span style="color:#2a2a2a">ng</span><span style="color:#707070;font-size:5.6px;letter-spacing:0.08px">）</span><span style="color:#2a2a2a">,1954</span></div>
<div class="a" style="left:203.7px;top:481.0px;padding:0.3px 2.4px 0.3px 0.6px;background:#dde1dc;font-size:6px;transform:scaleX(0.83);transform-origin:0 0"><div style="height:6.08px;line-height:6.08px;white-space:nowrap"><span style="color:#808080;font-size:5.6px;letter-spacing:0.08px">哲学</span></div></div>
<div class="a" style="left:203.7px;top:494.9px;padding:0.3px 2.4px 0.3px 0.6px;background:#dde1dc;font-size:6px;transform:scaleX(0.83);transform-origin:0 0"><div style="height:6.08px;line-height:6.08px;white-space:nowrap"><span style="color:#808080;font-size:5.6px;letter-spacing:0.08px">艺术</span></div></div>
<div class="a" style="left:203.7px;top:507.3px;padding:0.3px 2.4px 0.3px 0.6px;background:#dde1dc;font-size:6px;transform:scaleX(0.83);transform-origin:0 0"><div style="height:6.08px;line-height:6.08px;white-space:nowrap"><span style="color:#808080;font-size:5.6px;letter-spacing:0.08px">荷兰风格派</span><span style="color:#333"> (De Stijl)</span></div></div>
<div class="a" style="left:204.2px;top:513.68px;height:6.08px;line-height:6.08px;font-size:6px;transform:scaleX(0.83);transform-origin:0 0"><span style="color:#707070;font-size:5.6px;letter-spacing:0.08px">杜斯伯格（</span><span style="color:#2a2a2a">Theo van</span></div>
<div class="a" style="left:204.2px;top:519.76px;height:6.08px;line-height:6.08px;font-size:6px;transform:scaleX(0.83);transform-origin:0 0"><span style="color:#2a2a2a">Doesburg)</span></div>
<div class="a" style="left:204.2px;top:525.84px;height:6.08px;line-height:6.08px;font-size:6px;transform:scaleX(0.83);transform-origin:0 0"><span style="color:#707070;font-size:5.6px;letter-spacing:0.08px">全新的塑形表现（</span><span style="color:#2a2a2a">new</span></div>
<div class="a" style="left:204.2px;top:531.9200000000001px;height:6.08px;line-height:6.08px;font-size:6px;transform:scaleX(0.83);transform-origin:0 0"><span style="color:#2a2a2a">plastic expression)</span></div>
<div class="a" style="left:203.7px;top:540.5px;padding:0.3px 2.4px 0.3px 0.6px;background:#dde1dc;font-size:6px;transform:scaleX(0.83);transform-origin:0 0"><div style="height:6.08px;line-height:6.08px;white-space:nowrap"><span style="color:#808080;font-size:5.6px;letter-spacing:0.08px">俄国构成主义</span><span style="color:#333"> (Russian</span></div><div style="height:6.08px;line-height:6.08px;white-space:nowrap"><span style="color:#333">Constructivism)</span></div></div>
<div class="a" style="left:203.7px;top:555.5px;padding:0.3px 2.4px 0.3px 0.6px;background:#dde1dc;font-size:6px;transform:scaleX(0.83);transform-origin:0 0"><div style="height:6.08px;line-height:6.08px;white-space:nowrap"><span style="color:#808080;font-size:5.6px;letter-spacing:0.08px">立体主义</span><span style="color:#333"> (Cubism)</span></div></div>
<div class="a" style="left:204.2px;top:561.88px;height:6.08px;line-height:6.08px;font-size:6px;transform:scaleX(0.83);transform-origin:0 0"><span style="color:#707070;font-size:5.6px;letter-spacing:0.08px">纯粹主义</span><span style="color:#2a2a2a"> (Purism</span><span style="color:#707070;font-size:5.6px;letter-spacing:0.08px">，</span><span style="color:#2a2a2a">1920-</span></div>
<div class="a" style="left:204.2px;top:567.96px;height:6.08px;line-height:6.08px;font-size:6px;transform:scaleX(0.83);transform-origin:0 0"><span style="color:#2a2a2a">25)</span><span style="color:#707070;font-size:5.6px;letter-spacing:0.08px">，又称</span><span style="color:#2a2a2a"> Post Cubism</span><span style="color:#707070;font-size:5.6px;letter-spacing:0.08px">，</span></div>
<div class="a" style="left:204.2px;top:574.0400000000001px;height:6.08px;line-height:6.08px;font-size:6px;transform:scaleX(0.83);transform-origin:0 0"><span style="color:#707070;font-size:5.6px;letter-spacing:0.08px">柯布</span><span style="color:#2a2a2a"> Le corbusier </span><span style="color:#707070;font-size:5.6px;letter-spacing:0.08px">及奥占</span></div>
<div class="a" style="left:204.2px;top:580.1200000000001px;height:6.08px;line-height:6.08px;font-size:6px;transform:scaleX(0.83);transform-origin:0 0"><span style="color:#2a2a2a">Ozenfant </span><span style="color:#707070;font-size:5.6px;letter-spacing:0.08px">方创立）；</span></div>
<div class="a" style="left:203.7px;top:591.7px;padding:0.3px 2.4px 0.3px 0.6px;background:#dde1dc;font-size:6px;transform:scaleX(0.83);transform-origin:0 0"><div style="height:6.08px;line-height:6.08px;white-space:nowrap"><span style="color:#808080;font-size:5.6px;letter-spacing:0.08px">巨构（</span><span style="color:#333">Megastructure</span><span style="color:#808080;font-size:5.6px;letter-spacing:0.08px">）</span></div></div>
<div class="a" style="left:276.8px;top:374.9px;padding:0.3px 2.4px 0.3px 0.6px;background:#dde1dc;font-size:6px;transform:scaleX(0.83);transform-origin:0 0"><div style="height:6.08px;line-height:6.08px;white-space:nowrap"><span style="color:#808080;font-size:5.6px;letter-spacing:0.08px">围合</span><span style="color:#333"> (enclose)</span></div></div>
<div class="a" style="left:277.3px;top:381.28px;height:6.08px;line-height:6.08px;font-size:6px;transform:scaleX(0.83);transform-origin:0 0"><span style="color:#707070;font-size:5.6px;letter-spacing:0.08px">桂离宫（</span><span style="color:#2a2a2a">Katsura Rikyu</span><span style="color:#707070;font-size:5.6px;letter-spacing:0.08px">，</span><span style="color:#2a2a2a">Katsura</span></div>
<div class="a" style="left:277.3px;top:387.35999999999996px;height:6.08px;line-height:6.08px;font-size:6px;transform:scaleX(0.83);transform-origin:0 0"><span style="color:#2a2a2a">Imperial Villa</span><span style="color:#707070;font-size:5.6px;letter-spacing:0.08px">），日本，</span><span style="color:#2a2a2a">17 </span><span style="color:#707070;font-size:5.6px;letter-spacing:0.08px">世纪；</span></div>
<div class="a" style="left:277.3px;top:393.43999999999994px;height:6.08px;line-height:6.08px;font-size:6px;transform:scaleX(0.83);transform-origin:0 0"><span style="color:#2a2a2a">Ludwig Mies van der Rohe: German</span></div>
<div class="a" style="left:277.3px;top:399.5199999999999px;height:6.08px;line-height:6.08px;font-size:6px;transform:scaleX(0.83);transform-origin:0 0"><span style="color:#2a2a2a">Pavilion at the International Exhibition</span></div>
<div class="a" style="left:277.3px;top:405.5999999999999px;height:6.08px;line-height:6.08px;font-size:6px;transform:scaleX(0.83);transform-origin:0 0"><span style="color:#2a2a2a">in Barcelona, Spain, 1929;</span></div>
<div class="a" style="left:276.8px;top:415.0px;padding:0.3px 2.4px 0.3px 0.6px;background:#dde1dc;font-size:6px;transform:scaleX(0.83);transform-origin:0 0"><div style="height:6.08px;line-height:6.08px;white-space:nowrap"><span style="color:#808080;font-size:5.6px;letter-spacing:0.08px">挖洞穴</span><span style="color:#333"> (hollowit </span><span style="color:#808080;font-size:5.6px;letter-spacing:0.08px">充量式</span><span style="color:#333"> (poché) </span><span style="color:#808080;font-size:5.6px;letter-spacing:0.08px">减</span></div><div style="height:6.08px;line-height:6.08px;white-space:nowrap"><span style="color:#808080;font-size:5.6px;letter-spacing:0.08px">法）</span></div></div>
<div class="a" style="left:277.3px;top:429.8px;height:6.08px;line-height:6.08px;font-size:6px;transform:scaleX(0.83);transform-origin:0 0"><span style="color:#2a2a2a">Adolf Loos: Müller House, Prague,</span></div>
<div class="a" style="left:277.3px;top:435.88px;height:6.08px;line-height:6.08px;font-size:6px;transform:scaleX(0.83);transform-origin:0 0"><span style="color:#2a2a2a">Czech Republic, 1929 </span><span style="color:#707070;font-size:5.6px;letter-spacing:0.08px">—</span><span style="color:#2a2a2a"> 30;</span></div>
<div class="a" style="left:277.3px;top:441.96px;height:6.08px;line-height:6.08px;font-size:6px;transform:scaleX(0.83);transform-origin:0 0"><span style="color:#2a2a2a">Peter Zumthor: Therme Vals (Thermal</span></div>
<div class="a" style="left:277.3px;top:448.03999999999996px;height:6.08px;line-height:6.08px;font-size:6px;transform:scaleX(0.83);transform-origin:0 0"><span style="color:#2a2a2a">Bath Vals), Graubünden , Switzerland,</span></div>
<div class="a" style="left:277.3px;top:454.11999999999995px;height:6.08px;line-height:6.08px;font-size:6px;transform:scaleX(0.83);transform-origin:0 0"><span style="color:#2a2a2a">1990-1996;</span></div>
<div class="a" style="left:276.8px;top:459.5px;padding:0.3px 2.4px 0.3px 0.6px;background:#dde1dc;font-size:6px;transform:scaleX(0.83);transform-origin:0 0"><div style="height:6.08px;line-height:6.08px;white-space:nowrap"><span style="color:#808080;font-size:5.6px;letter-spacing:0.08px">叠加，穿插，折叠——</span></div></div>
<div class="a" style="left:277.3px;top:465.88px;height:6.08px;line-height:6.08px;font-size:6px;transform:scaleX(0.83);transform-origin:0 0"><span style="color:#707070;font-size:5.6px;letter-spacing:0.08px">——</span></div>
<div class="a" style="left:276.8px;top:474.5px;padding:0.3px 2.4px 0.3px 0.6px;background:#dde1dc;font-size:6px;transform:scaleX(0.83);transform-origin:0 0"><div style="height:6.08px;line-height:6.08px;white-space:nowrap"><span style="color:#808080;font-size:5.6px;letter-spacing:0.08px">空间构成</span></div></div>
<div class="a" style="left:277.3px;top:480.88px;height:6.08px;line-height:6.08px;font-size:6px;transform:scaleX(0.83);transform-origin:0 0"><span style="color:#2a2a2a">Andrea Palladio: Villa Capra &quot;La</span></div>
<div class="a" style="left:277.3px;top:486.96px;height:6.08px;line-height:6.08px;font-size:6px;transform:scaleX(0.83);transform-origin:0 0"><span style="color:#2a2a2a">Rotonda&quot; , Vicenza, Italy, 1566 </span><span style="color:#707070;font-size:5.6px;letter-spacing:0.08px">—</span></div>
<div class="a" style="left:277.3px;top:493.03999999999996px;height:6.08px;line-height:6.08px;font-size:6px;transform:scaleX(0.83);transform-origin:0 0"><span style="color:#2a2a2a">85, (completed in 1585 by Vincenzo</span></div>
<div class="a" style="left:277.3px;top:499.11999999999995px;height:6.08px;line-height:6.08px;font-size:6px;transform:scaleX(0.83);transform-origin:0 0"><span style="color:#2a2a2a">Scamozzi after Palladio&#x27;s death) ;</span></div>
<div class="a" style="left:276.8px;top:507.5px;padding:0.3px 2.4px 0.3px 0.6px;background:#dde1dc;font-size:6px;transform:scaleX(0.83);transform-origin:0 0"><div style="height:6.08px;line-height:6.08px;white-space:nowrap"><span style="color:#808080;font-size:5.6px;letter-spacing:0.08px">空间与内容（</span><span style="color:#333">program</span><span style="color:#808080;font-size:5.6px;letter-spacing:0.08px">）</span></div></div>
<div class="a" style="left:277.3px;top:513.88px;height:6.08px;line-height:6.08px;font-size:6px;transform:scaleX(0.83);transform-origin:0 0"><span style="color:#2a2a2a">Louis I. Kahn: Richards Medical</span></div>
<div class="a" style="left:277.3px;top:519.96px;height:6.08px;line-height:6.08px;font-size:6px;transform:scaleX(0.83);transform-origin:0 0"><span style="color:#2a2a2a">Research Laboratories, University of</span></div>
<div class="a" style="left:277.3px;top:526.0400000000001px;height:6.08px;line-height:6.08px;font-size:6px;transform:scaleX(0.83);transform-origin:0 0"><span style="color:#2a2a2a">Pennsylvania,  Philadelphia, US, 1957</span></div>
<div class="a" style="left:277.3px;top:532.1200000000001px;height:6.08px;line-height:6.08px;font-size:6px;transform:scaleX(0.83);transform-origin:0 0"><span style="color:#2a2a2a">-65;</span></div>
<div class="a" style="left:277.3px;top:538.2000000000002px;height:6.08px;line-height:6.08px;font-size:6px;transform:scaleX(0.83);transform-origin:0 0"><span style="color:#2a2a2a">Rem Koolhaas:</span></div>
<div class="a" style="left:277.3px;top:547.0px;height:6.08px;line-height:6.08px;font-size:6px;transform:scaleX(0.83);transform-origin:0 0"><span style="color:#707070;font-size:5.6px;letter-spacing:0.08px">功能泡泡图</span><span style="color:#2a2a2a"> (Bubble Diagrams)</span></div>
<div class="a" style="left:276.8px;top:561.3px;padding:0.3px 2.4px 0.3px 0.6px;background:#dde1dc;font-size:6px;transform:scaleX(0.83);transform-origin:0 0"><div style="height:6.08px;line-height:6.08px;white-space:nowrap"><span style="color:#808080;font-size:5.6px;letter-spacing:0.08px">漫步式建筑</span></div></div>
<div class="a" style="left:277.3px;top:567.68px;height:6.08px;line-height:6.08px;font-size:6px;transform:scaleX(0.83);transform-origin:0 0"><span style="color:#2a2a2a">Le Corbusier</span><span style="color:#707070;font-size:5.6px;letter-spacing:0.08px">：</span><span style="color:#2a2a2a"> Villa Savoye </span><span style="color:#707070;font-size:5.6px;letter-spacing:0.08px">，</span><span style="color:#2a2a2a">Poissy</span></div>
<div class="a" style="left:277.3px;top:573.76px;height:6.08px;line-height:6.08px;font-size:6px;transform:scaleX(0.83);transform-origin:0 0"><span style="color:#707070;font-size:5.6px;letter-spacing:0.08px">，</span><span style="color:#2a2a2a">France</span><span style="color:#707070;font-size:5.6px;letter-spacing:0.08px">，</span><span style="color:#2a2a2a">1928 </span><span style="color:#707070;font-size:5.6px;letter-spacing:0.08px">—</span><span style="color:#2a2a2a"> 29</span><span style="color:#707070;font-size:5.6px;letter-spacing:0.08px">；</span></div>
<div class="a" style="left:276.8px;top:580.8px;padding:0.3px 2.4px 0.3px 0.6px;background:#dde1dc;font-size:6px;transform:scaleX(0.83);transform-origin:0 0"><div style="height:6.08px;line-height:6.08px;white-space:nowrap"><span style="color:#808080;font-size:5.6px;letter-spacing:0.08px">概念控制设计法</span></div></div>
<div class="a" style="left:277.3px;top:587.18px;height:6.08px;line-height:6.08px;font-size:6px;transform:scaleX(0.83);transform-origin:0 0"><span style="color:#707070;font-size:5.6px;letter-spacing:0.08px">叙事法（</span><span style="color:#2a2a2a">Narrative)</span></div>
<div class="a" style="left:277.3px;top:593.26px;height:6.08px;line-height:6.08px;font-size:6px;transform:scaleX(0.83);transform-origin:0 0"><span style="color:#2a2a2a">Giuseppe Terragni</span><span style="color:#707070;font-size:5.6px;letter-spacing:0.08px">：</span><span style="color:#2a2a2a">Danteum</span><span style="color:#707070;font-size:5.6px;letter-spacing:0.08px">（但丁</span></div>
<div class="a" style="left:277.3px;top:599.34px;height:6.08px;line-height:6.08px;font-size:6px;transform:scaleX(0.83);transform-origin:0 0"><span style="color:#707070;font-size:5.6px;letter-spacing:0.08px">纪念堂，方案），</span><span style="color:#2a2a2a">Rome</span><span style="color:#707070;font-size:5.6px;letter-spacing:0.08px">，</span><span style="color:#2a2a2a">Italy</span><span style="color:#707070;font-size:5.6px;letter-spacing:0.08px">，</span></div>
<div class="a" style="left:277.3px;top:605.4200000000001px;height:6.08px;line-height:6.08px;font-size:6px;transform:scaleX(0.83);transform-origin:0 0"><span style="color:#2a2a2a">1938</span><span style="color:#707070;font-size:5.6px;letter-spacing:0.08px">；</span></div>
<div class="a" style="left:355.5px;top:375.8px;padding:0.3px 2.4px 0.3px 0.6px;background:#dde1dc;font-size:6px;transform:scaleX(0.83);transform-origin:0 0"><div style="height:6.08px;line-height:6.08px;white-space:nowrap"><span style="color:#808080;font-size:5.6px;letter-spacing:0.08px">概念设计法（叙事法）</span></div></div>
<div class="a" style="left:356px;top:382.18px;height:6.08px;line-height:6.08px;font-size:6px;transform:scaleX(0.83);transform-origin:0 0"><span style="color:#707070;font-size:5.6px;letter-spacing:0.08px">通过讲一个故事，控制空间的</span></div>
<div class="a" style="left:356px;top:388.26px;height:6.08px;line-height:6.08px;font-size:6px;transform:scaleX(0.83);transform-origin:0 0"><span style="color:#707070;font-size:5.6px;letter-spacing:0.08px">构成逻辑，空间秩序，六个面</span></div>
<div class="a" style="left:356px;top:394.34px;height:6.08px;line-height:6.08px;font-size:6px;transform:scaleX(0.83);transform-origin:0 0"><span style="color:#707070;font-size:5.6px;letter-spacing:0.08px">的交接，光影效果，空间氛围</span></div>
<div class="a" style="left:355.5px;top:415.5px;padding:0.3px 2.4px 0.3px 0.6px;background:#dde1dc;font-size:6px;transform:scaleX(0.83);transform-origin:0 0"><div style="height:6.08px;line-height:6.08px;white-space:nowrap"><span style="color:#808080;font-size:5.6px;letter-spacing:0.08px">空间构成基本要素</span></div></div>
<div class="a" style="left:356px;top:421.88px;height:6.08px;line-height:6.08px;font-size:6px;transform:scaleX(0.83);transform-origin:0 0"><span style="color:#707070;font-size:5.6px;letter-spacing:0.08px">空间限定；空间序列；流动空</span></div>
<div class="a" style="left:356px;top:427.96px;height:6.08px;line-height:6.08px;font-size:6px;transform:scaleX(0.83);transform-origin:0 0"><span style="color:#707070;font-size:5.6px;letter-spacing:0.08px">间；负实体</span><span style="color:#2a2a2a"> (Negative Object)</span><span style="color:#707070;font-size:5.6px;letter-spacing:0.08px">；</span></div>
<div class="a" style="left:356px;top:434.03999999999996px;height:6.08px;line-height:6.08px;font-size:6px;transform:scaleX(0.83);transform-origin:0 0"><span style="color:#707070;font-size:5.6px;letter-spacing:0.08px">透明性；空间秩序；模数</span><span style="color:#2a2a2a"> / </span><span style="color:#707070;font-size:5.6px;letter-spacing:0.08px">尺</span></div>
<div class="a" style="left:356px;top:440.11999999999995px;height:6.08px;line-height:6.08px;font-size:6px;transform:scaleX(0.83);transform-origin:0 0"><span style="color:#707070;font-size:5.6px;letter-spacing:0.08px">度</span><span style="color:#2a2a2a"> / </span><span style="color:#707070;font-size:5.6px;letter-spacing:0.08px">比例；光感（反射性，吸</span></div>
<div class="a" style="left:356px;top:446.19999999999993px;height:6.08px;line-height:6.08px;font-size:6px;transform:scaleX(0.83);transform-origin:0 0"><span style="color:#707070;font-size:5.6px;letter-spacing:0.08px">光性，透光性——）</span></div>
<div class="a" style="left:355.5px;top:469.5px;padding:0.3px 2.4px 0.3px 0.6px;background:#dde1dc;font-size:6px;transform:scaleX(0.83);transform-origin:0 0"><div style="height:6.08px;line-height:6.08px;white-space:nowrap"><span style="color:#808080;font-size:5.6px;letter-spacing:0.08px">结构与空间</span></div></div>
<div class="a" style="left:356px;top:475.88px;height:6.08px;line-height:6.08px;font-size:6px;transform:scaleX(0.83);transform-origin:0 0"><span style="color:#707070;font-size:5.6px;letter-spacing:0.08px">实体（砌体）结构，杆系（构架）</span></div>
<div class="a" style="left:356px;top:481.96px;height:6.08px;line-height:6.08px;font-size:6px;transform:scaleX(0.83);transform-origin:0 0"><span style="color:#707070;font-size:5.6px;letter-spacing:0.08px">结构</span></div>
<div class="a" style="left:356px;top:488.03999999999996px;height:6.08px;line-height:6.08px;font-size:6px;transform:scaleX(0.83);transform-origin:0 0"><span style="color:#2a2a2a">Andrea Deplazes, Christoph</span></div>
<div class="a" style="left:356px;top:494.11999999999995px;height:6.08px;line-height:6.08px;font-size:6px;transform:scaleX(0.83);transform-origin:0 0"><span style="color:#2a2a2a">Wieser . Constructing</span></div>
<div class="a" style="left:356px;top:500.19999999999993px;height:6.08px;line-height:6.08px;font-size:6px;transform:scaleX(0.83);transform-origin:0 0"><span style="color:#2a2a2a">Architecture: Materials Process</span></div>
<div class="a" style="left:356px;top:506.2799999999999px;height:6.08px;line-height:6.08px;font-size:6px;transform:scaleX(0.83);transform-origin:0 0"><span style="color:#2a2a2a">Structure, A Handbook. Basel</span></div>
<div class="a" style="left:356px;top:512.3599999999999px;height:6.08px;line-height:6.08px;font-size:6px;transform:scaleX(0.83);transform-origin:0 0"><span style="color:#2a2a2a">Birkhäuser, 2005;</span></div>
<div class="a" style="left:355.5px;top:525.1px;padding:0.3px 2.4px 0.3px 0.6px;background:#dde1dc;font-size:6px;transform:scaleX(0.83);transform-origin:0 0"><div style="height:6.08px;line-height:6.08px;white-space:nowrap"><span style="color:#808080;font-size:5.6px;letter-spacing:0.08px">空间与内容（问题）的互动</span></div></div>
<div class="a" style="left:355.5px;top:541.8px;padding:0.3px 2.4px 0.3px 0.6px;background:#dde1dc;font-size:6px;transform:scaleX(0.83);transform-origin:0 0"><div style="height:6.08px;line-height:6.08px;white-space:nowrap"><span style="color:#808080;font-size:5.6px;letter-spacing:0.08px">空间与人</span></div></div>
<div class="a" style="left:356px;top:548.18px;height:6.08px;line-height:6.08px;font-size:6px;transform:scaleX(0.83);transform-origin:0 0"><span style="color:#707070;font-size:5.6px;letter-spacing:0.08px">基本感官：视觉的，感知的</span></div>
<div class="a" style="left:356px;top:554.26px;height:6.08px;line-height:6.08px;font-size:6px;transform:scaleX(0.83);transform-origin:0 0"><span style="color:#2a2a2a">(Tactile)</span><span style="color:#707070;font-size:5.6px;letter-spacing:0.08px">，活动（控制，引导）</span></div>
<div class="a" style="left:356px;top:560.34px;height:6.08px;line-height:6.08px;font-size:6px;transform:scaleX(0.83);transform-origin:0 0"><span style="color:#707070;font-size:5.6px;letter-spacing:0.08px">的；心理影响；场所，场所感；</span></div>
<div class="a" style="left:356px;top:566.4200000000001px;height:6.08px;line-height:6.08px;font-size:6px;transform:scaleX(0.83);transform-origin:0 0"><span style="color:#707070;font-size:5.6px;letter-spacing:0.08px">社会学影响，人类学影响；</span></div>
<div class="a" style="left:427.8px;top:375.8px;padding:0.3px 2.4px 0.3px 0.6px;background:#dde1dc;font-size:6px;transform:scaleX(0.83);transform-origin:0 0"><div style="height:6.08px;line-height:6.08px;white-space:nowrap"><span style="color:#808080;font-size:5.6px;letter-spacing:0.08px">整体控制方法</span></div></div>
<div class="a" style="left:428.3px;top:382.18px;height:6.08px;line-height:6.08px;font-size:6px;transform:scaleX(0.83);transform-origin:0 0"><span style="color:#707070;font-size:5.6px;letter-spacing:0.08px">概念控制设计（叙事法）自</span></div>
<div class="a" style="left:428.3px;top:388.26px;height:6.08px;line-height:6.08px;font-size:6px;transform:scaleX(0.83);transform-origin:0 0"><span style="color:#707070;font-size:5.6px;letter-spacing:0.08px">圆其说；</span></div>
<div class="a" style="left:428.3px;top:394.34px;height:6.08px;line-height:6.08px;font-size:6px;transform:scaleX(0.83);transform-origin:0 0"><span style="color:#707070;font-size:5.6px;letter-spacing:0.08px">空间调性（氛围）性格鲜明；</span></div>
<div class="a" style="left:428.3px;top:400.41999999999996px;height:6.08px;line-height:6.08px;font-size:6px;transform:scaleX(0.83);transform-origin:0 0"><span style="color:#707070;font-size:5.6px;letter-spacing:0.08px">空间特征（挖洞穴</span><span style="color:#2a2a2a"> / </span><span style="color:#707070;font-size:5.6px;letter-spacing:0.08px">围合）</span></div>
<div class="a" style="left:428.3px;top:406.49999999999994px;height:6.08px;line-height:6.08px;font-size:6px;transform:scaleX(0.83);transform-origin:0 0"><span style="color:#707070;font-size:5.6px;letter-spacing:0.08px">性格鲜明；</span></div>
<div class="a" style="left:428.3px;top:412.5799999999999px;height:6.08px;line-height:6.08px;font-size:6px;transform:scaleX(0.83);transform-origin:0 0"><span style="color:#707070;font-size:5.6px;letter-spacing:0.08px">结构逻辑的配合（挖洞穴</span><span style="color:#2a2a2a"> /</span></div>
<div class="a" style="left:428.3px;top:418.6599999999999px;height:6.08px;line-height:6.08px;font-size:6px;transform:scaleX(0.83);transform-origin:0 0"><span style="color:#707070;font-size:5.6px;letter-spacing:0.08px">围合）精准诚实；</span></div>
<div class="a" style="left:428.3px;top:424.7399999999999px;height:6.08px;line-height:6.08px;font-size:6px;transform:scaleX(0.83);transform-origin:0 0"><span style="color:#707070;font-size:5.6px;letter-spacing:0.08px">内容（功能</span><span style="color:#2a2a2a"> / </span><span style="color:#707070;font-size:5.6px;letter-spacing:0.08px">问题）的互动</span></div>
<div class="a" style="left:428.3px;top:430.8199999999999px;height:6.08px;line-height:6.08px;font-size:6px;transform:scaleX(0.83);transform-origin:0 0"><span style="color:#707070;font-size:5.6px;letter-spacing:0.08px">合理自圆其说；</span></div>
<div class="a" style="left:428.3px;top:436.89999999999986px;height:6.08px;line-height:6.08px;font-size:6px;transform:scaleX(0.83);transform-origin:0 0"><span style="color:#707070;font-size:5.6px;letter-spacing:0.08px">空间秩序（</span><span style="color:#2a2a2a">order</span><span style="color:#707070;font-size:5.6px;letter-spacing:0.08px">）要明确；</span></div>
<div class="a" style="left:428.3px;top:442.97999999999985px;height:6.08px;line-height:6.08px;font-size:6px;transform:scaleX(0.83);transform-origin:0 0"><span style="color:#707070;font-size:5.6px;letter-spacing:0.08px">————</span></div>
<div class="a" style="left:427.8px;top:470.5px;padding:0.3px 2.4px 0.3px 0.6px;background:#dde1dc;font-size:6px;transform:scaleX(0.83);transform-origin:0 0"><div style="height:6.08px;line-height:6.08px;white-space:nowrap"><span style="color:#808080;font-size:5.6px;letter-spacing:0.08px">局部控制方法</span></div></div>
<div class="a" style="left:428.3px;top:476.88px;height:6.08px;line-height:6.08px;font-size:6px;transform:scaleX(0.83);transform-origin:0 0"><span style="color:#707070;font-size:5.6px;letter-spacing:0.08px">光与影；</span></div>
<div class="a" style="left:428.3px;top:482.96px;height:6.08px;line-height:6.08px;font-size:6px;transform:scaleX(0.83);transform-origin:0 0"><span style="color:#707070;font-size:5.6px;letter-spacing:0.08px">尺度与比例；</span></div>
<div class="a" style="left:428.3px;top:489.03999999999996px;height:6.08px;line-height:6.08px;font-size:6px;transform:scaleX(0.83);transform-origin:0 0"><span style="color:#707070;font-size:5.6px;letter-spacing:0.08px">结构；</span></div>
<div class="a" style="left:428.3px;top:495.11999999999995px;height:6.08px;line-height:6.08px;font-size:6px;transform:scaleX(0.83);transform-origin:0 0"><span style="color:#707070;font-size:5.6px;letter-spacing:0.08px">材料；</span></div>
<div class="a" style="left:428.3px;top:501.19999999999993px;height:6.08px;line-height:6.08px;font-size:6px;transform:scaleX(0.83);transform-origin:0 0"><span style="color:#707070;font-size:5.6px;letter-spacing:0.08px">肌理；</span></div>
<div class="a" style="left:428.3px;top:507.2799999999999px;height:6.08px;line-height:6.08px;font-size:6px;transform:scaleX(0.83);transform-origin:0 0"><span style="color:#707070;font-size:5.6px;letter-spacing:0.08px">建构细部；</span></div>
<div class="a" style="left:428.3px;top:513.3599999999999px;height:6.08px;line-height:6.08px;font-size:6px;transform:scaleX(0.83);transform-origin:0 0"><span style="color:#707070;font-size:5.6px;letter-spacing:0.08px">————</span></div>
<div class="a" style="left:427.8px;top:524.9px;padding:0.3px 2.4px 0.3px 0.6px;background:#dde1dc;font-size:6px;transform:scaleX(0.83);transform-origin:0 0"><div style="height:6.08px;line-height:6.08px;white-space:nowrap"><span style="color:#808080;font-size:5.6px;letter-spacing:0.08px">辅助设计与表达工具</span></div></div>
<div class="a" style="left:428.3px;top:531.28px;height:6.08px;line-height:6.08px;font-size:6px;transform:scaleX(0.83);transform-origin:0 0"><span style="color:#707070;font-size:5.6px;letter-spacing:0.08px">手工模型；</span></div>
<div class="a" style="left:428.3px;top:537.36px;height:6.08px;line-height:6.08px;font-size:6px;transform:scaleX(0.83);transform-origin:0 0"><span style="color:#707070;font-size:5.6px;letter-spacing:0.08px">电脑模型；</span></div>
<div class="a" style="left:428.3px;top:543.44px;height:6.08px;line-height:6.08px;font-size:6px;transform:scaleX(0.83);transform-origin:0 0"><span style="color:#707070;font-size:5.6px;letter-spacing:0.08px">草图；</span></div>
<div class="a" style="left:428.3px;top:549.5200000000001px;height:6.08px;line-height:6.08px;font-size:6px;transform:scaleX(0.83);transform-origin:0 0"><span style="color:#707070;font-size:5.6px;letter-spacing:0.08px">剖面与空间及人的尺度关</span></div>
<div class="a" style="left:428.3px;top:555.6000000000001px;height:6.08px;line-height:6.08px;font-size:6px;transform:scaleX(0.83);transform-origin:0 0"><span style="color:#707070;font-size:5.6px;letter-spacing:0.08px">系；</span></div>
<div class="a" style="left:428.3px;top:561.6800000000002px;height:6.08px;line-height:6.08px;font-size:6px;transform:scaleX(0.83);transform-origin:0 0"><span style="color:#707070;font-size:5.6px;letter-spacing:0.08px">平面与流线</span><span style="color:#2a2a2a"> / </span><span style="color:#707070;font-size:5.6px;letter-spacing:0.08px">秩序的关系；</span></div>
<div class="a" style="left:428.3px;top:567.7600000000002px;height:6.08px;line-height:6.08px;font-size:6px;transform:scaleX(0.83);transform-origin:0 0"><span style="color:#707070;font-size:5.6px;letter-spacing:0.08px">立面与尺度，建构（详图）</span></div>
<div class="a" style="left:428.3px;top:573.8400000000003px;height:6.08px;line-height:6.08px;font-size:6px;transform:scaleX(0.83);transform-origin:0 0"><span style="color:#707070;font-size:5.6px;letter-spacing:0.08px">的关系</span></div>
<div class="a" style="left:428.3px;top:579.9200000000003px;height:6.08px;line-height:6.08px;font-size:6px;transform:scaleX(0.83);transform-origin:0 0"><span style="color:#707070;font-size:5.6px;letter-spacing:0.08px">图表（</span><span style="color:#2a2a2a">Diagram</span><span style="color:#707070;font-size:5.6px;letter-spacing:0.08px">）与内容的</span></div>
<div class="a" style="left:428.3px;top:586.0000000000003px;height:6.08px;line-height:6.08px;font-size:6px;transform:scaleX(0.83);transform-origin:0 0"><span style="color:#707070;font-size:5.6px;letter-spacing:0.08px">关系；</span></div>
<div class="a" style="left:428.3px;top:592.0800000000004px;height:6.08px;line-height:6.08px;font-size:6px;transform:scaleX(0.83);transform-origin:0 0"><span style="color:#707070;font-size:5.6px;letter-spacing:0.08px">装置；视频；渲染图</span></div>
<div class="a" style="left:489.0px;top:374.7px;padding:0.3px 2.4px 0.3px 0.6px;background:#dde1dc;font-size:6px;transform:scaleX(0.83);transform-origin:0 0"><div style="height:6.08px;line-height:6.08px;white-space:nowrap"><span style="color:#808080;font-size:5.6px;letter-spacing:0.08px">九宫格</span></div></div>
<div class="a" style="left:489.5px;top:381.08px;height:6.08px;line-height:6.08px;font-size:6px;transform:scaleX(0.83);transform-origin:0 0"><span style="color:#2a2a2a">Nine square</span><span style="color:#707070;font-size:5.6px;letter-spacing:0.08px">，</span><span style="color:#2a2a2a">Texas</span></div>
<div class="a" style="left:489.5px;top:387.15999999999997px;height:6.08px;line-height:6.08px;font-size:6px;transform:scaleX(0.83);transform-origin:0 0"><span style="color:#2a2a2a">Rangers</span><span style="color:#707070;font-size:5.6px;letter-spacing:0.08px">，</span><span style="color:#2a2a2a">1950s</span><span style="color:#707070;font-size:5.6px;letter-spacing:0.08px">，</span><span style="color:#2a2a2a">John</span></div>
<div class="a" style="left:489.5px;top:393.23999999999995px;height:6.08px;line-height:6.08px;font-size:6px;transform:scaleX(0.83);transform-origin:0 0"><span style="color:#2a2a2a">Hejduk</span><span style="color:#707070;font-size:5.6px;letter-spacing:0.08px">；</span></div>
<div class="a" style="left:489.0px;top:402.1px;padding:0.3px 2.4px 0.3px 0.6px;background:#dde1dc;font-size:6px;transform:scaleX(0.83);transform-origin:0 0"><div style="height:6.08px;line-height:6.08px;white-space:nowrap"><span style="color:#808080;font-size:5.6px;letter-spacing:0.08px">挖洞穴与围合</span></div></div>
<div class="a" style="left:489.5px;top:408.48px;height:6.08px;line-height:6.08px;font-size:6px;transform:scaleX(0.83);transform-origin:0 0"><span style="color:#707070;font-size:5.6px;letter-spacing:0.08px">两线索平行展开</span></div>
<div class="a" style="left:489.0px;top:430.5px;padding:0.3px 2.4px 0.3px 0.6px;background:#dde1dc;font-size:6px;transform:scaleX(0.83);transform-origin:0 0"><div style="height:6.08px;line-height:6.08px;white-space:nowrap"><span style="color:#808080;font-size:5.6px;letter-spacing:0.08px">分阶段训练</span></div></div>
<div class="a" style="left:489.5px;top:436.88px;height:6.08px;line-height:6.08px;font-size:6px;transform:scaleX(0.83);transform-origin:0 0"><span style="color:#2a2a2a">1</span><span style="color:#707070;font-size:5.6px;letter-spacing:0.08px">）认知阶段；</span></div>
<div class="a" style="left:489.5px;top:442.96px;height:6.08px;line-height:6.08px;font-size:6px;transform:scaleX(0.83);transform-origin:0 0"><span style="color:#2a2a2a">2</span><span style="color:#707070;font-size:5.6px;letter-spacing:0.08px">）设计阶段；</span></div>
<div class="a" style="left:489.0px;top:473.5px;padding:0.3px 2.4px 0.3px 0.6px;background:#dde1dc;font-size:6px;transform:scaleX(0.83);transform-origin:0 0"><div style="height:6.08px;line-height:6.08px;white-space:nowrap"><span style="color:#808080;font-size:5.6px;letter-spacing:0.08px">分目标专项训练</span></div></div>
<div class="a" style="left:489.0px;top:486.5px;padding:0.3px 2.4px 0.3px 0.6px;background:#dde1dc;font-size:6px;transform:scaleX(0.83);transform-origin:0 0"><div style="height:6.08px;line-height:6.08px;white-space:nowrap"><span style="color:#808080;font-size:5.6px;letter-spacing:0.08px">总结性综合训练</span></div></div>
<div class="a" style="left:547.7px;top:374.7px;padding:0.3px 2.4px 0.3px 0.6px;background:#dde1dc;font-size:6px;transform:scaleX(0.83);transform-origin:0 0"><div style="height:6.08px;line-height:6.08px;white-space:nowrap"><span style="color:#808080;font-size:5.6px;letter-spacing:0.08px">五个训练步骤</span></div></div>
<!-- SECTION 3 -->
<svg width="600" height="830" viewBox="0 0 600 830">
<rect x="0" y="621.1" width="600" height="1.9" fill="#a84355"/>
<rect x="20.7" y="626.2" width="134.6" height="28.3" rx="4.5" fill="#a84355"/>
<g fill="none" stroke="#c9627b" stroke-width="1.4" stroke-dasharray="1.4 1.4">
<rect x="21.5" y="658.5" width="145.5" height="170" rx="5"/>
<rect x="204.5" y="658.5" width="375.5" height="169" rx="5"/>
</g>
<rect x="26.4" y="676.4000000000001" width="33.9" height="137.1999999999999" fill="#fff" stroke="#bd7282" stroke-width="1.4"/>
<rect x="25.7" y="815" width="35.3" height="8.8" fill="#cbcbc7"/>
<rect x="127.4" y="675.4000000000001" width="33.70000000000001" height="138.1999999999999" fill="#fff" stroke="#bd7282" stroke-width="1.4"/>
<rect x="126.7" y="815" width="35.10000000000001" height="8.8" fill="#cbcbc7"/>
<rect x="222.5" y="677.5" width="34.1" height="136.1" fill="#fff" stroke="#bd7282" stroke-width="1.4"/>
<rect x="221.8" y="815" width="35.5" height="8.8" fill="#8d918d"/>
<rect x="301.3" y="678.5" width="33.69999999999997" height="135.1" fill="#fff" stroke="#bd7282" stroke-width="1.4"/>
<rect x="300.6" y="815" width="35.099999999999966" height="8.8" fill="#8d918d"/>
<rect x="381.2" y="678.5" width="33.40000000000001" height="135.1" fill="#fff" stroke="#bd7282" stroke-width="1.4"/>
<rect x="380.5" y="815" width="34.80000000000001" height="8.8" fill="#8d918d"/>
<rect x="464.09999999999997" y="678.5" width="34.000000000000036" height="135.1" fill="#fff" stroke="#bd7282" stroke-width="1.4"/>
<rect x="463.4" y="815" width="35.400000000000034" height="8.8" fill="#8d918d"/>
<rect x="539.2" y="677.4000000000001" width="33.700000000000024" height="136.1999999999999" fill="#fff" stroke="#bd7282" stroke-width="1.4"/>
<rect x="538.5" y="815" width="35.10000000000002" height="8.8" fill="#8d918d"/>
<path d="M75.7 733.3L86.7 729.1999999999999L86.0 731.5999999999999H101.4L100.7 729.1999999999999L111.7 733.3L100.7 737.4L101.4 735.0H86.0L86.7 737.4Z" fill="#a53a4f"/>
<path d="M168.2 733.4L179.2 729.3L178.5 731.6999999999999H193.7L193 729.3L204 733.4L193 737.5L193.7 735.1H178.5L179.2 737.5Z" fill="#a53a4f"/>
<path d="M260.8 733.6L271.8 729.5L271.1 731.9H287.4L286.7 729.5L297.7 733.6L286.7 737.7L287.4 735.3000000000001H271.1L271.8 737.7Z" fill="#a53a4f"/>
<path d="M340 734L351 729.9L350.3 732.3H365.59999999999997L364.9 729.9L375.9 734L364.9 738.1L365.59999999999997 735.7H350.3L351 738.1Z" fill="#a53a4f"/>
<path d="M422 734.3L433 730.1999999999999L432.3 732.5999999999999H447.0L446.3 730.1999999999999L457.3 734.3L446.3 738.4L447.0 736.0H432.3L433 738.4Z" fill="#a53a4f"/>
<path d="M500 734.6L511 730.5L510.3 732.9H525.2L524.5 730.5L535.5 734.6L524.5 738.7L525.2 736.3000000000001H510.3L511 738.7Z" fill="#a53a4f"/>
</svg>
<div class="a" style="left:34.5px;top:627px;font-size:16.8px;line-height:30px;color:#f7eaec;font-weight:200">教案训练步骤</div>
<div class="a" style="left:39px;top:659.3px;font-size:10.6px;line-height:16px;color:#b0586b;font-weight:300">阶段一：空间认知</div>
<div class="a" style="left:366.3px;top:658.8px;font-size:10.6px;line-height:16px;color:#b0586b;font-weight:300">阶段二：空间设计</div>
<div class="a" style="left:25.7px;top:707.0px;width:35.3px;text-align:center;font-size:8.1px;letter-spacing:1.1px;padding-left:1.1px;line-height:10.2px;color:#4e4e4e;white-space:normal">空间<br>范例<br>分析<br>与<br>表达</div>
<div class="a" style="left:25.7px;top:814.5px;width:35.3px;text-align:center;font-size:8px;line-height:10px;color:#555">1.1</div>
<div class="a" style="left:126.7px;top:706.1999999999999px;width:35.10000000000001px;text-align:center;font-size:8.1px;letter-spacing:1.1px;padding-left:1.1px;line-height:10.2px;color:#4e4e4e;white-space:normal">空间<br>体验<br>认知<br>与<br>再现</div>
<div class="a" style="left:126.7px;top:814.5px;width:35.10000000000001px;text-align:center;font-size:8px;line-height:10px;color:#555">1.2</div>
<div class="a" style="left:221.8px;top:707.9px;width:35.5px;text-align:center;font-size:8.1px;letter-spacing:1.1px;padding-left:1.1px;line-height:10.2px;color:#4e4e4e;white-space:normal">空间<br>构成<br>秩序<br>的<br>设计</div>
<div class="a" style="left:221.8px;top:814.5px;width:35.5px;text-align:center;font-size:8px;line-height:10px;color:#f0f0f0">2.1</div>
<div class="a" style="left:300.6px;top:708.1999999999999px;width:35.099999999999966px;text-align:center;font-size:8.1px;letter-spacing:1.1px;padding-left:1.1px;line-height:10.2px;color:#4e4e4e;white-space:normal">入口<br>及<br>路径<br>的<br>设计</div>
<div class="a" style="left:300.6px;top:814.5px;width:35.099999999999966px;text-align:center;font-size:8px;line-height:10px;color:#f0f0f0">2.2</div>
<div class="a" style="left:380.5px;top:708.4px;width:34.80000000000001px;text-align:center;font-size:8.1px;letter-spacing:1.1px;padding-left:1.1px;line-height:10.2px;color:#4e4e4e;white-space:normal">结构<br>逻辑<br>与<br>空间<br>秩序</div>
<div class="a" style="left:380.5px;top:814.5px;width:34.80000000000001px;text-align:center;font-size:8px;line-height:10px;color:#f0f0f0">2.3</div>
<div class="a" style="left:463.4px;top:710.1999999999999px;width:35.400000000000034px;text-align:center;font-size:8.1px;letter-spacing:1.1px;padding-left:1.1px;line-height:10.2px;color:#4e4e4e;white-space:normal">材料<br>细部<br>与<br>空间<br>设计</div>
<div class="a" style="left:463.4px;top:814.5px;width:35.400000000000034px;text-align:center;font-size:8px;line-height:10px;color:#f0f0f0">2.4</div>
<div class="a" style="left:538.5px;top:708.6px;width:35.10000000000002px;text-align:center;font-size:8.1px;letter-spacing:1.1px;padding-left:1.1px;line-height:10.2px;color:#4e4e4e;white-space:normal">空间<br>设计<br>与<br>空间<br>内容</div>
<div class="a" style="left:538.5px;top:814.5px;width:35.10000000000002px;text-align:center;font-size:8px;line-height:10px;color:#f0f0f0">2.5</div>
<div class="a" style="left:556px;top:769px;width:0;font-size:4.6px;line-height:6px;color:#777"><span style="display:inline-block;transform:translateX(-50%)">功能 / 问题</span></div>
</body></html>
